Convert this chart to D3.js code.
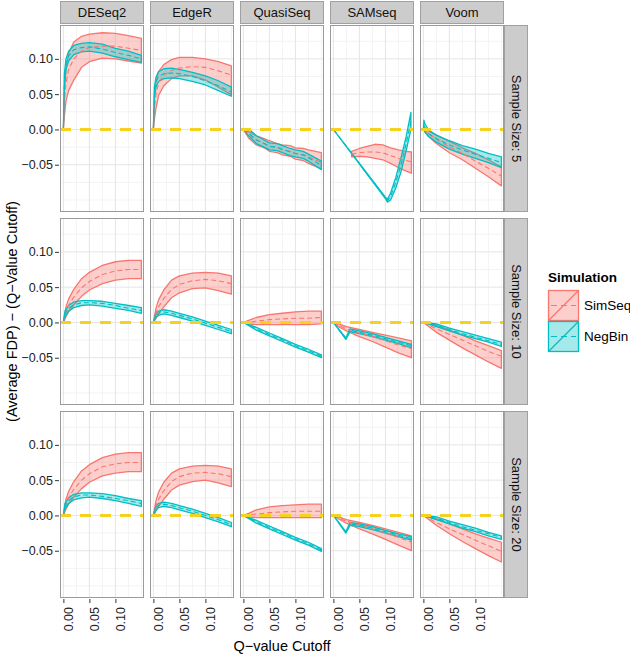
<!DOCTYPE html>
<html>
<head>
<meta charset="utf-8">
<script src="https://cdn.jsdelivr.net/npm/d3@7"></script>
<style>
  body { margin: 0; background: #fff; }
  svg { font-family: "Liberation Sans", Arial, sans-serif; }
</style>
</head>
<body>
<div id="chart"></div>
<script>
const methods = ['DESeq2', 'EdgeR', 'QuasiSeq', 'SAMseq', 'Voom'];
const sampleSizes = [5, 10, 20];
const simulations = ['SimSeq', 'NegBin'];
const xTicks = [0, 0.05, 0.10];
const yTicks = [-0.05, 0, 0.05, 0.10];
const xMinor = [0.025, 0.075, 0.125, 0.15];
const yMinor = [-0.10, -0.075, -0.025, 0.025, 0.075, 0.125];

// rows: [q cutoff, lower, mean, upper]
const DESeq2_5_SimSeq = [[0, 0, 0, 0], [0.002, 0.02, 0.04, 0.06], [0.005, 0.04, 0.065, 0.085], [0.01, 0.055, 0.085, 0.108], [0.02, 0.07, 0.1, 0.124], [0.035, 0.088, 0.111, 0.132], [0.05, 0.096, 0.116, 0.135], [0.075, 0.101, 0.118, 0.137], [0.1, 0.1, 0.118, 0.136], [0.125, 0.097, 0.115, 0.133], [0.15, 0.094, 0.112, 0.129]];
const DESeq2_5_NegBin = [[0, 0, 0, 0], [0.002, 0.06, 0.07, 0.08], [0.005, 0.085, 0.093, 0.1], [0.01, 0.097, 0.104, 0.111], [0.02, 0.106, 0.113, 0.119], [0.035, 0.11, 0.116, 0.122], [0.05, 0.111, 0.117, 0.123], [0.075, 0.108, 0.114, 0.121], [0.1, 0.103, 0.109, 0.115], [0.125, 0.099, 0.105, 0.111], [0.15, 0.095, 0.1, 0.105]];
const EdgeR_5_SimSeq = [[0, 0, 0, 0], [0.002, 0.015, 0.03, 0.045], [0.005, 0.03, 0.05, 0.068], [0.01, 0.048, 0.066, 0.082], [0.02, 0.062, 0.077, 0.092], [0.035, 0.072, 0.084, 0.099], [0.05, 0.076, 0.087, 0.102], [0.075, 0.076, 0.089, 0.102], [0.1, 0.07, 0.088, 0.1], [0.125, 0.06, 0.083, 0.096], [0.15, 0.049, 0.077, 0.09]];
const EdgeR_5_NegBin = [[0, 0, 0, 0], [0.002, 0.045, 0.052, 0.06], [0.005, 0.06, 0.067, 0.074], [0.01, 0.068, 0.075, 0.082], [0.02, 0.072, 0.079, 0.086], [0.035, 0.073, 0.08, 0.087], [0.05, 0.072, 0.079, 0.085], [0.075, 0.068, 0.075, 0.081], [0.1, 0.063, 0.069, 0.076], [0.125, 0.055, 0.062, 0.069], [0.15, 0.047, 0.053, 0.06]];
const QuasiSeq_5_SimSeq = [[0, 0, 0, 0], [0.01, -0.012, -0.007, -0.003], [0.025, -0.022, -0.015, -0.009], [0.04, -0.026, -0.02, -0.013], [0.05, -0.031, -0.024, -0.016], [0.065, -0.033, -0.026, -0.02], [0.075, -0.036, -0.029, -0.022], [0.09, -0.038, -0.031, -0.023], [0.1, -0.042, -0.034, -0.026], [0.115, -0.044, -0.036, -0.027], [0.125, -0.048, -0.039, -0.029], [0.15, -0.056, -0.047, -0.033]];
const QuasiSeq_5_NegBin = [[0, 0, 0, 0], [0.01, -0.009, -0.005, 0.001], [0.025, -0.02, -0.015, -0.009], [0.04, -0.025, -0.02, -0.015], [0.05, -0.029, -0.024, -0.019], [0.065, -0.03, -0.025, -0.02], [0.075, -0.033, -0.028, -0.023], [0.09, -0.037, -0.032, -0.027], [0.1, -0.039, -0.034, -0.029], [0.115, -0.041, -0.036, -0.031], [0.125, -0.045, -0.04, -0.035], [0.15, -0.057, -0.051, -0.045]];
const SAMseq_5_SimSeq = [[0.035, -0.039, -0.035, -0.031], [0.05, -0.038, -0.033, -0.027], [0.065, -0.039, -0.032, -0.024], [0.08, -0.041, -0.032, -0.021], [0.095, -0.043, -0.033, -0.022], [0.11, -0.048, -0.037, -0.026], [0.125, -0.054, -0.041, -0.029], [0.14, -0.059, -0.044, -0.031], [0.15, -0.062, -0.046, -0.032]];
const SAMseq_5_NegBin = [[0, 0, 0, 0], [0.1, -0.098, -0.097, -0.096], [0.104, -0.103, -0.101, -0.099], [0.11, -0.1, -0.095, -0.09], [0.12, -0.083, -0.075, -0.068], [0.13, -0.06, -0.05, -0.04], [0.14, -0.03, -0.02, -0.01], [0.149, 0.0, 0.012, 0.024]];
const Voom_5_SimSeq = [[0, 0, 0, 0], [0.01, -0.01, -0.006, -0.002], [0.025, -0.02, -0.014, -0.008], [0.05, -0.033, -0.025, -0.017], [0.075, -0.043, -0.034, -0.026], [0.1, -0.055, -0.045, -0.034], [0.125, -0.067, -0.055, -0.043], [0.15, -0.08, -0.066, -0.053]];
const Voom_5_NegBin = [[0, 0, 0, 0], [0.001, 0.002, 0.008, 0.013], [0.003, -0.004, 0.002, 0.008], [0.01, -0.01, -0.006, -0.001], [0.025, -0.018, -0.013, -0.008], [0.05, -0.028, -0.022, -0.016], [0.075, -0.035, -0.029, -0.023], [0.1, -0.041, -0.035, -0.028], [0.125, -0.047, -0.041, -0.034], [0.15, -0.054, -0.047, -0.039]];

const DESeq2_10_SimSeq = [[0, 0, 0, 0], [0.005, 0.008, 0.015, 0.022], [0.01, 0.015, 0.024, 0.033], [0.02, 0.025, 0.036, 0.047], [0.035, 0.037, 0.049, 0.062], [0.05, 0.046, 0.058, 0.071], [0.075, 0.055, 0.068, 0.081], [0.1, 0.06, 0.073, 0.086], [0.125, 0.062, 0.075, 0.088], [0.15, 0.062, 0.075, 0.088]];
const DESeq2_10_NegBin = [[0, 0, 0, 0], [0.003, 0.008, 0.012, 0.016], [0.01, 0.016, 0.02, 0.024], [0.02, 0.021, 0.025, 0.029], [0.035, 0.024, 0.028, 0.031], [0.05, 0.025, 0.028, 0.031], [0.075, 0.023, 0.027, 0.03], [0.1, 0.02, 0.024, 0.027], [0.125, 0.017, 0.02, 0.024], [0.15, 0.013, 0.017, 0.021]];
const EdgeR_10_SimSeq = [[0, 0, 0, 0], [0.005, 0.006, 0.013, 0.02], [0.01, 0.012, 0.022, 0.032], [0.02, 0.022, 0.034, 0.046], [0.035, 0.035, 0.047, 0.06], [0.05, 0.042, 0.054, 0.066], [0.075, 0.048, 0.059, 0.07], [0.1, 0.049, 0.061, 0.071], [0.125, 0.045, 0.059, 0.07], [0.15, 0.04, 0.055, 0.066]];
const EdgeR_10_NegBin = [[0, 0, 0, 0], [0.005, 0.007, 0.01, 0.013], [0.01, 0.01, 0.013, 0.016], [0.02, 0.012, 0.015, 0.018], [0.035, 0.01, 0.013, 0.016], [0.05, 0.007, 0.01, 0.013], [0.075, 0.002, 0.005, 0.008], [0.1, -0.004, -0.001, 0.002], [0.125, -0.01, -0.007, -0.004], [0.15, -0.016, -0.013, -0.01]];
const QuasiSeq_10_SimSeq = [[0, 0, 0, 0], [0.01, -0.002, 0.0, 0.003], [0.025, -0.003, 0.002, 0.007], [0.05, -0.003, 0.004, 0.011], [0.075, -0.003, 0.005, 0.013], [0.1, -0.003, 0.006, 0.015], [0.125, -0.003, 0.006, 0.016], [0.15, -0.002, 0.007, 0.016]];
const QuasiSeq_10_NegBin = [[0, 0, 0, 0], [0.025, -0.011, -0.009, -0.007], [0.05, -0.019, -0.017, -0.015], [0.075, -0.027, -0.025, -0.023], [0.1, -0.035, -0.033, -0.031], [0.125, -0.042, -0.04, -0.038], [0.15, -0.05, -0.048, -0.046]];
const SAMseq_10_SimSeq = [[0, 0, 0, 0], [0.01, -0.006, -0.004, -0.002], [0.025, -0.012, -0.009, -0.006], [0.05, -0.02, -0.015, -0.01], [0.075, -0.027, -0.02, -0.014], [0.1, -0.035, -0.026, -0.018], [0.125, -0.043, -0.032, -0.022], [0.15, -0.05, -0.037, -0.026]];
const SAMseq_10_NegBin = [[0, 0, 0, 0], [0.024, -0.024, -0.023, -0.022], [0.032, -0.013, -0.011, -0.009], [0.05, -0.016, -0.014, -0.012], [0.075, -0.02, -0.018, -0.016], [0.1, -0.025, -0.023, -0.021], [0.125, -0.03, -0.028, -0.026], [0.15, -0.036, -0.033, -0.031]];
const Voom_10_SimSeq = [[0, 0, 0, 0], [0.025, -0.014, -0.009, -0.004], [0.05, -0.025, -0.017, -0.011], [0.075, -0.036, -0.025, -0.018], [0.1, -0.046, -0.033, -0.026], [0.125, -0.056, -0.041, -0.033], [0.15, -0.065, -0.048, -0.04]];
const Voom_10_NegBin = [[0, 0, 0, 0], [0.025, -0.006, -0.004, -0.002], [0.05, -0.012, -0.01, -0.008], [0.075, -0.018, -0.016, -0.013], [0.1, -0.023, -0.021, -0.018], [0.125, -0.028, -0.026, -0.023], [0.15, -0.034, -0.031, -0.028]];

const DESeq2_20_SimSeq = [[0, 0, 0, 0], [0.005, 0.009, 0.016, 0.023], [0.01, 0.016, 0.025, 0.034], [0.02, 0.026, 0.037, 0.048], [0.035, 0.038, 0.05, 0.063], [0.05, 0.047, 0.059, 0.072], [0.075, 0.056, 0.069, 0.082], [0.1, 0.06, 0.073, 0.087], [0.125, 0.062, 0.075, 0.089], [0.15, 0.062, 0.075, 0.089]];
const DESeq2_20_NegBin = [[0, 0, 0, 0], [0.003, 0.009, 0.013, 0.017], [0.01, 0.017, 0.021, 0.025], [0.02, 0.022, 0.026, 0.03], [0.035, 0.025, 0.029, 0.032], [0.05, 0.026, 0.029, 0.032], [0.075, 0.024, 0.027, 0.031], [0.1, 0.021, 0.024, 0.028], [0.125, 0.017, 0.021, 0.024], [0.15, 0.013, 0.017, 0.021]];
const EdgeR_20_SimSeq = [[0, 0, 0, 0], [0.005, 0.007, 0.014, 0.021], [0.01, 0.013, 0.023, 0.033], [0.02, 0.023, 0.035, 0.047], [0.035, 0.036, 0.048, 0.06], [0.05, 0.043, 0.055, 0.066], [0.075, 0.048, 0.06, 0.07], [0.1, 0.05, 0.061, 0.071], [0.125, 0.046, 0.059, 0.07], [0.15, 0.041, 0.055, 0.066]];
const EdgeR_20_NegBin = [[0, 0, 0, 0], [0.005, 0.007, 0.011, 0.014], [0.01, 0.011, 0.014, 0.017], [0.02, 0.013, 0.016, 0.019], [0.035, 0.011, 0.014, 0.017], [0.05, 0.008, 0.011, 0.014], [0.075, 0.003, 0.006, 0.009], [0.1, -0.003, 0.0, 0.003], [0.125, -0.009, -0.006, -0.003], [0.15, -0.016, -0.013, -0.01]];
const QuasiSeq_20_SimSeq = [[0, 0, 0, 0], [0.01, -0.002, 0.001, 0.003], [0.025, -0.003, 0.002, 0.008], [0.05, -0.003, 0.004, 0.012], [0.075, -0.003, 0.005, 0.014], [0.1, -0.003, 0.006, 0.015], [0.125, -0.003, 0.006, 0.016], [0.15, -0.003, 0.006, 0.016]];
const QuasiSeq_20_NegBin = [[0, 0, 0, 0], [0.025, -0.011, -0.009, -0.007], [0.05, -0.019, -0.017, -0.015], [0.075, -0.027, -0.025, -0.023], [0.1, -0.035, -0.033, -0.031], [0.125, -0.042, -0.04, -0.038], [0.15, -0.051, -0.049, -0.047]];
const SAMseq_20_SimSeq = [[0, 0, 0, 0], [0.01, -0.005, -0.004, -0.002], [0.025, -0.011, -0.008, -0.006], [0.05, -0.019, -0.014, -0.01], [0.075, -0.026, -0.019, -0.014], [0.1, -0.034, -0.025, -0.019], [0.125, -0.042, -0.031, -0.024], [0.15, -0.05, -0.038, -0.029]];
const SAMseq_20_NegBin = [[0, 0, 0, 0], [0.024, -0.025, -0.024, -0.023], [0.032, -0.014, -0.012, -0.01], [0.05, -0.016, -0.014, -0.012], [0.075, -0.02, -0.018, -0.016], [0.1, -0.025, -0.023, -0.021], [0.125, -0.03, -0.028, -0.026], [0.15, -0.035, -0.033, -0.03]];
const Voom_20_SimSeq = [[0, 0, 0, 0], [0.025, -0.014, -0.01, -0.005], [0.05, -0.026, -0.019, -0.012], [0.075, -0.037, -0.027, -0.019], [0.1, -0.047, -0.035, -0.026], [0.125, -0.057, -0.043, -0.032], [0.15, -0.066, -0.051, -0.038]];
const Voom_20_NegBin = [[0, 0, 0, 0], [0.025, -0.006, -0.004, -0.002], [0.05, -0.012, -0.01, -0.008], [0.075, -0.018, -0.016, -0.013], [0.1, -0.023, -0.021, -0.018], [0.125, -0.029, -0.026, -0.024], [0.15, -0.034, -0.031, -0.029]];

const curves = {
  DESeq2: { 5: [DESeq2_5_SimSeq, DESeq2_5_NegBin], 10: [DESeq2_10_SimSeq, DESeq2_10_NegBin], 20: [DESeq2_20_SimSeq, DESeq2_20_NegBin] },
  EdgeR: { 5: [EdgeR_5_SimSeq, EdgeR_5_NegBin], 10: [EdgeR_10_SimSeq, EdgeR_10_NegBin], 20: [EdgeR_20_SimSeq, EdgeR_20_NegBin] },
  QuasiSeq: { 5: [QuasiSeq_5_SimSeq, QuasiSeq_5_NegBin], 10: [QuasiSeq_10_SimSeq, QuasiSeq_10_NegBin], 20: [QuasiSeq_20_SimSeq, QuasiSeq_20_NegBin] },
  SAMseq: { 5: [SAMseq_5_SimSeq, SAMseq_5_NegBin], 10: [SAMseq_10_SimSeq, SAMseq_10_NegBin], 20: [SAMseq_20_SimSeq, SAMseq_20_NegBin] },
  Voom: { 5: [Voom_5_SimSeq, Voom_5_NegBin], 10: [Voom_10_SimSeq, Voom_10_NegBin], 20: [Voom_20_SimSeq, Voom_20_NegBin] },
};

const width = 630;
const height = 655;
const marginLeft = 60;
const marginTop = 25;
const panelW = 84;
const panelH = 187;
const gap = 6;
const stripH = 24;

const color = d3.scaleOrdinal().domain(simulations).range(['#F8766D', '#00BFC4']);
const fillOpacity = 0.35;

const x = d3.scaleLinear().domain([-0.0065, 0.155]).range([0, panelW]);
const y = d3.scaleLinear().domain([-0.117, 0.148]).range([panelH, 0]);

const fmt = d => (d < 0 ? '\u2212' : '') + d3.format('.2f')(Math.abs(d));

const svg = d3.select('#chart')
  .append('svg')
  .attr('width', width)
  .attr('height', height);

const area = d3.area()
  .x(d => x(d[0]))
  .y0(d => y(d[1]))
  .y1(d => y(d[3]));

const meanLine = d3.line()
  .x(d => x(d[0]))
  .y(d => y(d[2]));

methods.forEach((m, i) => {
  const px = marginLeft + i * (panelW + gap);

  // column strip
  svg.append('rect')
    .attr('x', px + 0.5).attr('y', 1.5)
    .attr('width', panelW - 1).attr('height', stripH - 2)
    .attr('fill', '#cccccc').attr('stroke', '#a0a0a0');
  svg.append('text')
    .attr('x', px + panelW / 2).attr('y', 17)
    .attr('text-anchor', 'middle')
    .attr('font-size', 13).attr('fill', '#111')
    .text(m);

  sampleSizes.forEach((n, j) => {
    const py = marginTop + j * (panelH + gap);
    const g = svg.append('g').attr('transform', `translate(${px},${py})`);

    g.append('rect')
      .attr('width', panelW).attr('height', panelH)
      .attr('fill', '#fff');

    g.selectAll('.minx').data(xMinor).enter().append('line')
      .attr('x1', d => x(d)).attr('x2', d => x(d))
      .attr('y1', 0).attr('y2', panelH)
      .attr('stroke', '#f3f3f3');
    g.selectAll('.miny').data(yMinor).enter().append('line')
      .attr('y1', d => y(d)).attr('y2', d => y(d))
      .attr('x1', 0).attr('x2', panelW)
      .attr('stroke', '#f3f3f3');
    g.selectAll('.majx').data(xTicks).enter().append('line')
      .attr('x1', d => x(d)).attr('x2', d => x(d))
      .attr('y1', 0).attr('y2', panelH)
      .attr('stroke', '#e5e5e5');
    g.selectAll('.majy').data(yTicks).enter().append('line')
      .attr('y1', d => y(d)).attr('y2', d => y(d))
      .attr('x1', 0).attr('x2', panelW)
      .attr('stroke', '#e5e5e5');

    const series = curves[m][n];

    // ribbons with outlines
    series.forEach((data, k) => {
      const c = color(simulations[k]);
      g.append('path')
        .datum(data)
        .attr('d', area)
        .attr('fill', c)
        .attr('fill-opacity', fillOpacity)
        .attr('stroke', c)
        .attr('stroke-width', 1.3)
        .attr('stroke-linejoin', 'round');
    });

    // dashed mean lines
    series.forEach((data, k) => {
      g.append('path')
        .datum(data)
        .attr('d', meanLine)
        .attr('fill', 'none')
        .attr('stroke', color(simulations[k]))
        .attr('stroke-width', 1.1)
        .attr('stroke-dasharray', '5,3');
    });

    // reference line at zero
    g.append('line')
      .attr('x1', 0).attr('x2', panelW)
      .attr('y1', y(0)).attr('y2', y(0))
      .attr('stroke', '#F5D21F')
      .attr('stroke-width', 3)
      .attr('stroke-dasharray', '11,9');

    g.append('rect')
      .attr('x', 0.5).attr('y', 0.5)
      .attr('width', panelW - 1).attr('height', panelH - 1)
      .attr('fill', 'none').attr('stroke', '#9a9a9a');

    // y axis on first column
    if (i === 0) {
      const yAxis = g.append('g').call(d3.axisLeft(y).tickValues(yTicks).tickFormat(fmt).tickSize(4).tickPadding(3));
      yAxis.select('.domain').remove();
      yAxis.selectAll('line').attr('stroke', '#333').attr('transform', 'translate(-1,0)');
      yAxis.selectAll('text').attr('font-size', 12.5).attr('fill', '#222')
        .attr('font-family', '"Liberation Sans", Arial, sans-serif');
    }

    // x axis on last row
    if (j === sampleSizes.length - 1) {
      const xAxis = g.append('g')
        .attr('transform', `translate(0,${panelH})`)
        .call(d3.axisBottom(x).tickValues(xTicks).tickFormat(fmt).tickSize(4));
      xAxis.select('.domain').remove();
      xAxis.selectAll('line').attr('stroke', '#333').attr('transform', 'translate(0,1)');
      xAxis.selectAll('text')
        .attr('font-size', 12.5).attr('fill', '#222')
        .attr('font-family', '"Liberation Sans", Arial, sans-serif')
        .attr('text-anchor', 'end')
        .attr('dy', null)
        .attr('x', -9).attr('y', 9)
        .attr('transform', 'rotate(-90)');
    }

    // row strip
    if (i === methods.length - 1) {
      svg.append('rect')
        .attr('x', px + panelW + 0.5).attr('y', py + 0.5)
        .attr('width', 23).attr('height', panelH - 1)
        .attr('fill', '#cccccc').attr('stroke', '#a0a0a0');
      svg.append('text')
        .attr('transform', `translate(${px + panelW + 8},${py + panelH / 2}) rotate(90)`)
        .attr('text-anchor', 'middle')
        .attr('font-size', 13).attr('fill', '#111')
        .text(`Sample Size: ${n}`);
    }
  });
});

// axis titles
const gridW = methods.length * panelW + (methods.length - 1) * gap;
const gridH = sampleSizes.length * panelH + (sampleSizes.length - 1) * gap;

svg.append('text')
  .attr('x', marginLeft + gridW / 2).attr('y', 651)
  .attr('text-anchor', 'middle')
  .attr('font-size', 14.5).attr('fill', '#000')
  .text('Q\u2212value Cutoff');

svg.append('text')
  .attr('transform', `translate(17,${marginTop + gridH / 2}) rotate(-90)`)
  .attr('text-anchor', 'middle')
  .attr('font-size', 14.5).attr('fill', '#000')
  .text('(Average FDP) \u2212 (Q\u2212Value Cutoff)');

// legend
const legendX = 548;
const legendY = 290;
const keySize = 30;

svg.append('text')
  .attr('x', legendX).attr('y', 282)
  .attr('font-size', 13.5).attr('font-weight', 'bold').attr('fill', '#000')
  .text('Simulation');

const legend = svg.selectAll('.legend')
  .data(simulations)
  .enter()
  .append('g')
  .attr('class', 'legend')
  .attr('transform', (d, i) => `translate(${legendX},${legendY + i * (keySize + 1)})`);

legend.append('rect')
  .attr('x', 0.5).attr('y', 0.5)
  .attr('width', keySize).attr('height', keySize)
  .attr('fill', d => color(d)).attr('fill-opacity', fillOpacity)
  .attr('stroke', d => color(d)).attr('stroke-width', 1.3);

legend.append('line')
  .attr('x1', 0.5).attr('y1', keySize + 0.5)
  .attr('x2', keySize + 0.5).attr('y2', 0.5)
  .attr('stroke', d => color(d)).attr('stroke-width', 1.3);

legend.append('line')
  .attr('x1', 3).attr('y1', keySize / 2 + 0.5)
  .attr('x2', keySize - 2).attr('y2', keySize / 2 + 0.5)
  .attr('stroke', d => color(d)).attr('stroke-width', 1.2)
  .attr('stroke-dasharray', '6,4');

legend.append('text')
  .attr('x', keySize + 6).attr('y', keySize / 2 + 5)
  .attr('font-size', 13.5).attr('fill', '#000')
  .text(d => d);
</script>
</body>
</html>
